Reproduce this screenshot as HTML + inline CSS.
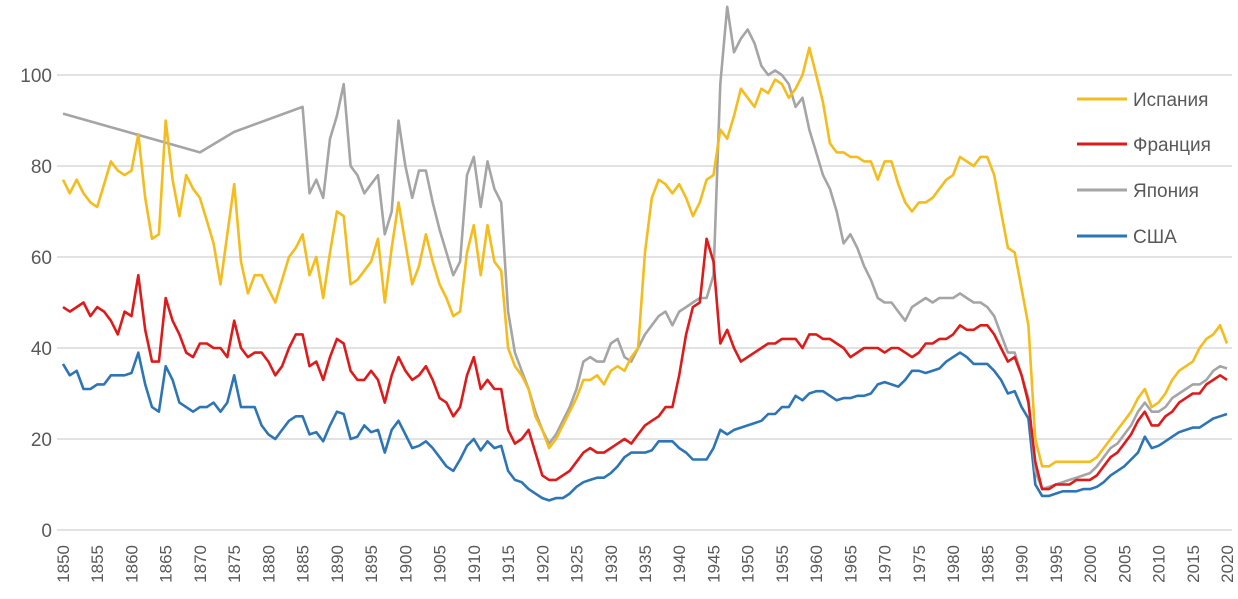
<!DOCTYPE html>
<html><head><meta charset="utf-8"><style>
html,body{margin:0;padding:0;background:#fff;}
svg{display:block;font-family:"Liberation Sans","DejaVu Sans",sans-serif;}
</style></head><body>
<svg id="c" width="1238" height="599" viewBox="0 0 1238 599">
<g stroke="#d9d9d9" stroke-width="1.5">
<line x1="57" x2="1232" y1="530" y2="530"/><line x1="57" x2="1232" y1="439" y2="439"/>
<line x1="57" x2="1232" y1="348" y2="348"/><line x1="57" x2="1232" y1="257" y2="257"/>
<line x1="57" x2="1232" y1="166" y2="166"/><line x1="57" x2="1232" y1="75" y2="75"/>
</g>
<g fill="#595959" font-size="19" text-anchor="end">
<text x="52" y="537">0</text><text x="52" y="446">20</text><text x="52" y="355">40</text>
<text x="52" y="264">60</text><text x="52" y="173">80</text><text x="52" y="82">100</text>
</g>
<g id="xl" fill="#595959" font-size="17" text-anchor="end">
<text transform="translate(69,545) rotate(-90)">1850</text>
<text transform="translate(103.2,545) rotate(-90)">1855</text>
<text transform="translate(137.5,545) rotate(-90)">1860</text>
<text transform="translate(171.7,545) rotate(-90)">1865</text>
<text transform="translate(205.9,545) rotate(-90)">1870</text>
<text transform="translate(240.2,545) rotate(-90)">1875</text>
<text transform="translate(274.4,545) rotate(-90)">1880</text>
<text transform="translate(308.6,545) rotate(-90)">1885</text>
<text transform="translate(342.9,545) rotate(-90)">1890</text>
<text transform="translate(377.1,545) rotate(-90)">1895</text>
<text transform="translate(411.4,545) rotate(-90)">1900</text>
<text transform="translate(445.6,545) rotate(-90)">1905</text>
<text transform="translate(479.8,545) rotate(-90)">1910</text>
<text transform="translate(514.1,545) rotate(-90)">1915</text>
<text transform="translate(548.3,545) rotate(-90)">1920</text>
<text transform="translate(582.5,545) rotate(-90)">1925</text>
<text transform="translate(616.8,545) rotate(-90)">1930</text>
<text transform="translate(651,545) rotate(-90)">1935</text>
<text transform="translate(685.2,545) rotate(-90)">1940</text>
<text transform="translate(719.5,545) rotate(-90)">1945</text>
<text transform="translate(753.7,545) rotate(-90)">1950</text>
<text transform="translate(788,545) rotate(-90)">1955</text>
<text transform="translate(822.2,545) rotate(-90)">1960</text>
<text transform="translate(856.4,545) rotate(-90)">1965</text>
<text transform="translate(890.7,545) rotate(-90)">1970</text>
<text transform="translate(924.9,545) rotate(-90)">1975</text>
<text transform="translate(959.1,545) rotate(-90)">1980</text>
<text transform="translate(993.4,545) rotate(-90)">1985</text>
<text transform="translate(1027.6,545) rotate(-90)">1990</text>
<text transform="translate(1061.8,545) rotate(-90)">1995</text>
<text transform="translate(1096.1,545) rotate(-90)">2000</text>
<text transform="translate(1130.3,545) rotate(-90)">2005</text>
<text transform="translate(1164.6,545) rotate(-90)">2010</text>
<text transform="translate(1198.8,545) rotate(-90)">2015</text>
<text transform="translate(1233,545) rotate(-90)">2020</text>
</g>
<g id="series" fill="none" stroke-width="2.6" stroke-linejoin="round"></g>
<g stroke-width="3">
<line x1="1077" x2="1127" y1="99" y2="99" stroke="#F4BC1C"/>
<line x1="1077" x2="1127" y1="144" y2="144" stroke="#DE1B1B"/>
<line x1="1077" x2="1127" y1="190" y2="190" stroke="#A5A5A5"/>
<line x1="1077" x2="1127" y1="236" y2="236" stroke="#2E75B6"/>
</g>
<g fill="#595959" font-size="19">
<text x="1133" y="106">Испания</text>
<text x="1133" y="151">Франция</text>
<text x="1133" y="197">Япония</text>
<text x="1133" y="243">США</text>
</g>
</svg>
<script>
var spain=[77,74,77,74,72,71,76,81,79,78,79,87,73,64,65,90,77,69,78,75,73,68,63,54,65,76,59,52,56,56,53,50,55,60,62,65,56,60,51,61,70,69,54,55,57,59,64,50,62,72,63,54,58,65,59,54,51,47,48,61,67,56,67,59,57,40,36,34,31,25,22,18,20,23,26,29,33,33,34,32,35,36,35,38,40,61,73,77,76,74,76,73,69,72,77,78,88,86,91,97,95,93,97,96,99,98,95,97,100,106,100,94,85,83,83,82,82,81,81,77,81,81,76,72,70,72,72,73,75,77,78,82,81,80,82,82,78,70,62,61,53,45,20,14,14,15,15,15,15,15,15,16,18,20,22,24,26,29,31,27,28,30,33,35,36,37,40,42,43,45,41];
var france=[49,48,49,50,47,49,48,46,43,48,47,56,44,37,37,51,46,43,39,38,41,41,40,40,38,46,40,38,39,39,37,34,36,40,43,43,36,37,33,38,42,41,35,33,33,35,33,28,34,38,35,33,34,36,33,29,28,25,27,34,38,31,33,31,31,22,19,20,22,17,12,11,11,12,13,15,17,18,17,17,18,19,20,19,21,23,24,25,27,27,34,43,49,50,64,59,41,44,40,37,38,39,40,41,41,42,42,42,40,43,43,42,42,41,40,38,39,40,40,40,39,40,40,39,38,39,41,41,42,42,43,45,44,44,45,45,43,40,37,38,34,28,15,9,9,10,10,10,11,11,11,12,14,16,17,19,21,24,26,23,23,25,26,28,29,30,30,32,33,34,33];
var usa=[36.5,34,35,31,31,32,32,34,34,34,34.5,39,32,27,26,36,33,28,27,26,27,27,28,26,28,34,27,27,27,23,21,20,22,24,25,25,21,21.5,19.5,23,26,25.5,20,20.5,23,21.5,22,17,22,24,21,18,18.5,19.5,18,16,14,13,15.5,18.5,20,17.5,19.5,18,18.5,13,11,10.5,9,8,7,6.5,7,7,8,9.5,10.5,11,11.5,11.5,12.5,14,16,17,17,17,17.5,19.5,19.5,19.5,18,17,15.5,15.5,15.5,18,22,21,22,22.5,23,23.5,24,25.5,25.5,27,27,29.5,28.5,30,30.5,30.5,29.5,28.5,29,29,29.5,29.5,30,32,32.5,32,31.5,33,35,35,34.5,35,35.5,37,38,39,38,36.5,36.5,36.5,35,33,30,30.5,27,24.5,10,7.5,7.5,8,8.5,8.5,8.5,9,9,9.5,10.5,12,13,14,15.5,17,20.5,18,18.5,19.5,20.5,21.5,22,22.5,22.5,23.5,24.5,25,25.5];
var japanTail=[93,74,77,73,86,91,98,80,78,74,76,78,65,70,90,80,73,79,79,72,66,61,56,59,78,82,71,81,75,72,48,39,35,31,26,22,19,21,24,27,31,37,38,37,37,41,42,38,37,40,43,45,47,48,45,48,49,50,51,51,56,98,115,105,108,110,107,102,100,101,100,98,93,95,88,83,78,75,70,63,65,62,58,55,51,50,50,48,46,49,50,51,50,51,51,51,52,51,50,50,49,47,43,39,39,34,29,13,9,9.5,10,10.5,11,11.5,12,12.5,14,16,18,19,21,23,26,28,26,26,27,29,30,31,32,32,33,35,36,35.5];
function X(y){return 63+(y-1850)*6.847;}
function Y(v){return 530-v*4.55;}
function pts(arr,start){return arr.map(function(v,i){return X(start+i).toFixed(1)+","+Y(v).toFixed(1);}).join(" ");}
var jp=[X(1850)+","+Y(91.5),X(1870)+","+Y(83),X(1875)+","+Y(87.5)].join(" ")+" "+pts(japanTail,1885);
var g=document.getElementById("series");
function add(p,c){var e=document.createElementNS("http://www.w3.org/2000/svg","polyline");e.setAttribute("points",p);e.setAttribute("stroke",c);g.appendChild(e);}
add(pts(usa,1850),"#2E75B6");
add(jp,"#A5A5A5");
add(pts(france,1850),"#DE1B1B");
add(pts(spain,1850),"#F4BC1C");
</script>
</body></html>
